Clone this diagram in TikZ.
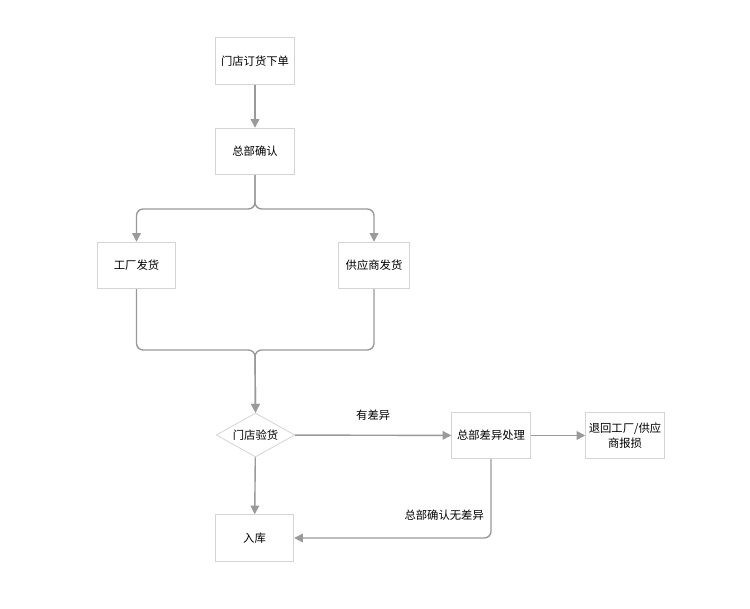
\documentclass[tikz,border=0pt]{standalone}
\usepackage{fontspec}
\setmainfont{Noto Sans CJK SC}
\usetikzlibrary{arrows.meta,shapes.geometric}

\definecolor{boxline}{HTML}{D4D4D4}
\definecolor{flowline}{HTML}{9A9A9A}

\tikzset{
	stepbox/.style={draw=boxline, line width=0.6pt, fill=white, minimum width=59pt, minimum height=35pt, inner sep=1pt, align=center, font=\fontsize{8.5}{11}\selectfont},
	checkbox/.style={draw=boxline, line width=0.6pt, fill=white, diamond, aspect=1.8, minimum width=59pt, minimum height=33pt, inner sep=0pt, font=\fontsize{8.5}{11}\selectfont},
	flow/.style={draw=flowline, line width=1.05pt, -{Triangle[length=6.5pt, width=6.5pt]}, rounded corners=5pt},
	flowlabel/.style={font=\fontsize{8.5}{11}\selectfont}
}

\begin{document}
\begin{tikzpicture}[x=0.75pt, y=-0.75pt]
			\useasboundingbox (0,0) rectangle (750,609);

			% Draw the steps
			\node[stepbox] (order) at (255, 61) {门店订货下单};
			\node[stepbox] (confirm) at (255, 151.5) {总部确认};
			\node[stepbox] (factory) at (136.5, 265.5) {工厂发货};
			\node[stepbox, minimum width=53pt] (supplier) at (374, 265.5) {供应商发货};
			\node[checkbox] (check) at (255.5, 435) {门店验货};
			\node[stepbox] (stock) at (254.5, 538) {入库};
			\node[stepbox] (diff) at (491, 435.5) {总部差异处理};
			\node[stepbox] (back) at (625, 435.5) {退回工厂/供应\\商报损};

			% Split and merge points
			\coordinate (split) at (255, 209);
			\coordinate (merge) at (255, 350);

			% Draw the flow
			\draw[flow] (order) -- (confirm);
			\draw[flow] (confirm.south) -- (split) -| (factory.north);
			\draw[flow] (confirm.south) -- (split) -| (supplier.north);
			\draw[flow] (factory.south) |- (merge) -- (check.north);
			\draw[flow] (supplier.south) |- (merge) -- (check.north);
			\draw[flow] (check) -- (stock);
			\draw[flow] (check) -- (diff) node[flowlabel, midway, above=7pt] {有差异};
			\draw[flow] (diff.south) |- (stock.east) node[flowlabel, pos=0.5, anchor=south east, xshift=-1.5pt, yshift=9pt] {总部确认无差异};
			\draw[flow] (diff) -- (back);
		\end{tikzpicture}
\end{document}
